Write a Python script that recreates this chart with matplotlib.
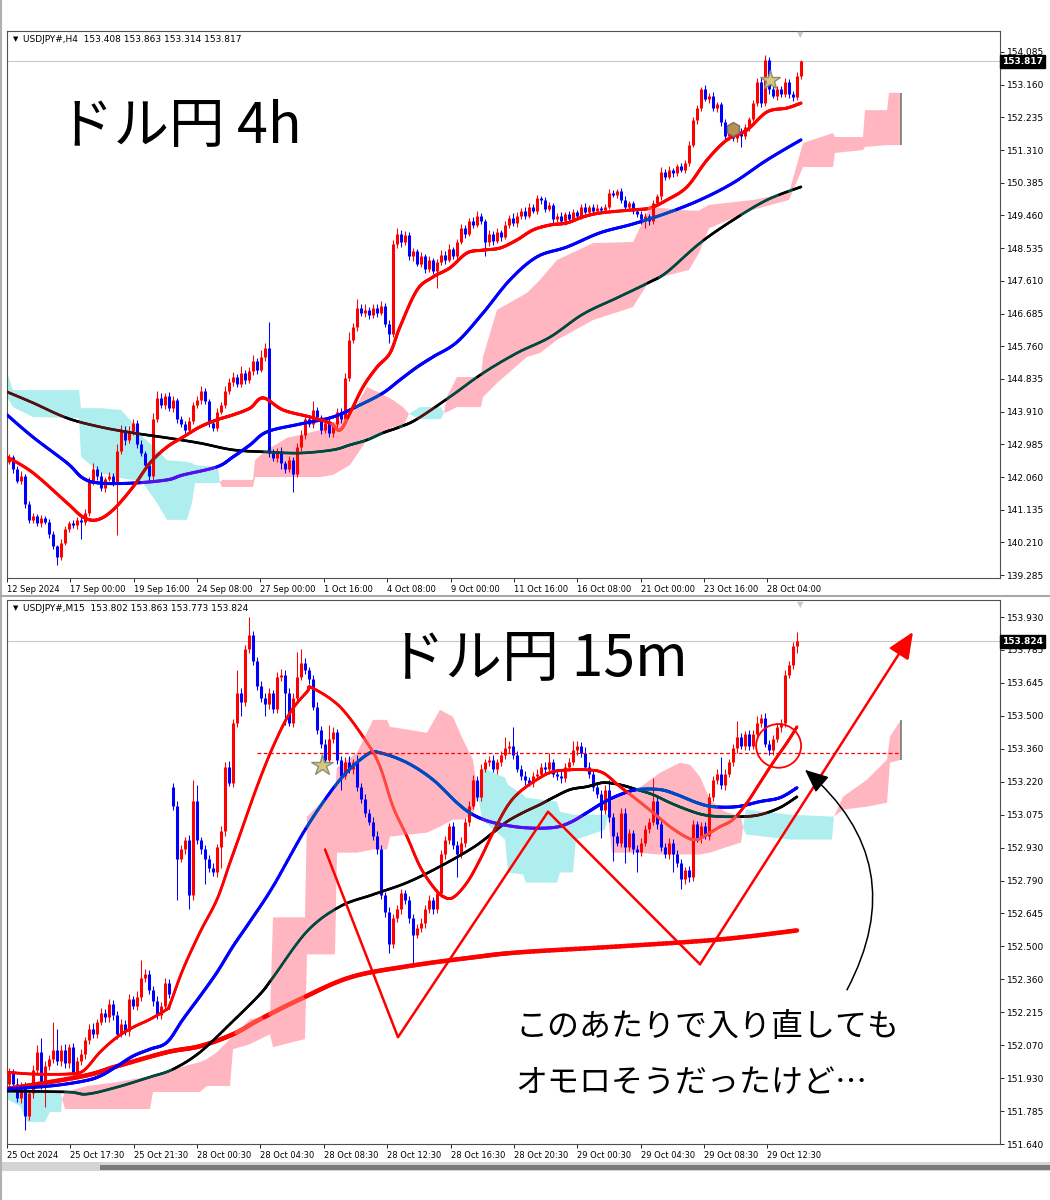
import numpy as np
import matplotlib
matplotlib.use("Agg")
import matplotlib.pyplot as plt
import matplotlib.colors as mcolors
import matplotlib.transforms as mtransforms
from matplotlib.collections import LineCollection
from matplotlib.patches import Ellipse, FancyArrowPatch, Rectangle
from matplotlib.lines import Line2D

plt.rcParams['font.family'] = ['Noto Sans CJK JP', 'DejaVu Sans']

# ---------------- H4 chart data ----------------
h4_first_open = 142.50
h4_close = [
    142.62, 142.28, 141.95, 142.10, 141.30, 140.85, 140.95, 140.75, 140.90, 140.80,
    140.45, 140.10, 139.80, 140.20, 140.60, 140.75, 140.70, 140.85, 140.80, 141.05,
    141.95, 142.30, 142.10, 141.75, 142.00, 142.10, 141.90, 142.80, 143.40, 143.10,
    143.35, 143.60, 143.00, 142.75, 142.40, 142.10, 143.70, 144.30, 144.10, 144.35,
    144.00, 144.25, 143.70, 143.55, 143.40, 143.65, 144.10, 144.25, 144.50, 144.20,
    143.60, 143.45, 143.90, 144.10, 144.50, 144.75, 144.90, 144.70, 145.00, 144.80,
    145.05, 145.35, 145.10, 145.45, 145.70, 142.75, 142.60, 142.80, 142.45, 142.30,
    142.55, 142.15, 142.90, 143.25, 143.70, 143.55, 143.95, 143.75, 143.40, 143.60,
    143.30, 143.55, 143.90, 143.70, 144.85, 145.95, 146.30, 146.85, 146.70, 146.80,
    146.65, 146.85, 146.70, 146.90, 146.40, 146.10, 148.65, 148.95, 148.70, 148.90,
    148.30, 148.45, 148.10, 148.30, 147.95, 148.20, 147.90, 148.15, 148.35, 148.20,
    148.50, 148.30, 148.70, 149.10, 148.95, 149.30, 149.20, 149.45, 149.30, 148.70,
    148.95, 148.75, 149.00, 148.85, 149.20, 149.40, 149.25, 149.45, 149.60, 149.45,
    149.70, 149.60, 149.95, 149.90, 149.65, 149.75, 149.35, 149.45, 149.30, 149.50,
    149.35, 149.55, 149.45, 149.70, 149.55, 149.70, 149.60, 149.68, 149.62, 149.70,
    150.10, 150.05, 150.15, 149.90, 149.70, 149.80, 149.60, 149.50, 149.35, 149.45,
    149.30, 149.80, 150.00, 150.70, 150.55, 150.75, 150.65, 150.85, 150.75, 150.95,
    151.45, 152.15, 152.50, 153.05, 152.75, 152.85, 152.50, 152.60, 152.10, 151.70,
    151.85, 151.65, 151.85, 151.70, 151.95, 152.20, 152.65, 153.25, 152.65, 153.85,
    153.05, 152.85, 153.05, 152.90, 153.25, 152.90, 152.80, 153.408, 153.817]
# wick lengths in 0.01 yen
h4_wick_up = [
    8, 6, 10, 12, 5, 8, 10, 6, 9, 7,
    6, 8, 5, 10, 8, 6, 9, 7, 8, 10,
    12, 15, 8, 10, 6, 9, 8, 20, 12, 10,
    15, 10, 8, 12, 6, 10, 18, 20, 15, 8,
    12, 10, 6, 8, 10, 12, 8, 10, 15, 8,
    6, 10, 12, 8, 15, 10, 12, 8, 20, 10,
    12, 15, 8, 20, 15, 75, 10, 8, 12, 6,
    10, 8, 12, 15, 10, 8, 25, 10, 8, 12,
    10, 8, 12, 10, 15, 20, 12, 25, 10, 15,
    8, 12, 10, 15, 8, 10, 12, 15, 10, 12,
    8, 10, 6, 12, 8, 10, 6, 8, 12, 10,
    15, 8, 10, 12, 8, 10, 12, 15, 8, 6,
    10, 8, 12, 6, 10, 8, 12, 10, 8, 10,
    12, 8, 10, 6, 8, 10, 6, 8, 10, 6,
    8, 10, 6, 8, 10, 6, 8, 10, 6, 8,
    10, 8, 6, 8, 10, 8, 6, 8, 10, 8,
    6, 10, 8, 12, 8, 10, 6, 8, 10, 8,
    12, 10, 8, 5, 10, 8, 10, 6, 8, 10,
    8, 10, 6, 8, 10, 6, 8, 10, 12, 15,
    10, 8, 6, 8, 10, 6, 8, 10, 5]
h4_wick_dn = [
    8, 10, 6, 8, 12, 10, 8, 6, 10, 8,
    10, 8, 22, 8, 6, 10, 8, 12, 50, 10,
    8, 10, 12, 8, 10, 6, 8, 148, 10, 12,
    8, 10, 12, 8, 10, 15, 12, 8, 10, 12,
    8, 10, 12, 8, 10, 6, 8, 10, 12, 8,
    12, 10, 8, 6, 10, 8, 12, 10, 8, 10,
    8, 10, 12, 8, 10, 12, 8, 10, 15, 12,
    10, 51, 8, 10, 12, 8, 10, 6, 12, 8,
    10, 12, 8, 10, 6, 8, 10, 12, 8, 10,
    12, 8, 10, 6, 10, 25, 8, 10, 12, 8,
    10, 12, 8, 10, 12, 8, 10, 50, 8, 10,
    6, 8, 10, 6, 12, 8, 10, 6, 8, 40,
    10, 12, 8, 10, 6, 8, 10, 12, 8, 10,
    6, 8, 10, 12, 8, 6, 10, 8, 12, 10,
    8, 6, 10, 8, 6, 10, 8, 6, 10, 8,
    6, 8, 10, 8, 12, 6, 10, 8, 12, 25,
    10, 8, 6, 10, 8, 6, 10, 8, 6, 10,
    8, 6, 10, 8, 6, 10, 8, 12, 10, 15,
    10, 8, 12, 30, 8, 10, 6, 8, 12, 10,
    15, 8, 12, 10, 8, 12, 10, 8, 9]

h4_red_x = [-0.5, 6, 14.5, 18.5, 22, 26, 31, 35.25, 39.5, 43.5, 47.75, 52, 56, 60.25, 63.5,
            68.5, 75.25, 80.25, 82.75, 85.25, 88.5, 92, 95.25, 97.75, 102, 106, 110.25, 114.5,
            118.5, 122.75, 127, 131, 135.25, 139.5, 143.5, 147.75, 156, 160.25, 164.5, 169.5,
            174.5, 179.5, 184.5, 189.5, 194.5, 198]
h4_red_y = [142.63, 142.18, 141.33, 140.93, 140.85, 141.13, 141.78, 142.46, 142.91, 143.19,
            143.48, 143.68, 143.82, 144.01, 144.30, 143.96, 143.76, 143.59, 143.39, 143.87,
            144.61, 145.17, 145.57, 146.31, 147.35, 147.72, 147.98, 148.40, 148.48, 148.54,
            148.77, 149.05, 149.19, 149.25, 149.42, 149.53, 149.62, 149.67, 149.90, 150.27,
            151.03, 151.60, 151.88, 152.39, 152.50, 152.64]
h4_blue_x = [-0.5, 6, 14.5, 18.5, 22.75, 31, 39.5, 43.5, 52, 56, 60.25, 64.5, 72.75, 81, 87.75,
             93.5, 97.75, 102, 106, 112, 118.5, 125.25, 132, 139.5, 147.75, 156, 164.5, 172.75,
             181, 189.5, 198]
h4_blue_y = [143.82, 143.19, 142.46, 142.03, 141.89, 141.89, 141.98, 142.12, 142.35, 142.63,
             142.97, 143.34, 143.56, 143.76, 144.10, 144.44, 144.81, 145.17, 145.46, 145.88,
             146.70, 147.64, 148.29, 148.57, 148.97, 149.22, 149.53, 149.90, 150.38, 151.03,
             151.60]
h4_black_x = [-0.5, 6, 14.5, 22.75, 31, 39.5, 47.75, 56, 64.5, 72.75, 81, 85.25, 89.5, 93.5,
              97.75, 102, 110.25, 118.5, 127, 135.25, 143.5, 152, 160.25, 164.5, 172.75, 181,
              189.5, 198]
h4_black_y = [144.47, 144.16, 143.73, 143.48, 143.31, 143.17, 143.02, 142.83, 142.77, 142.74,
              142.83, 142.97, 143.11, 143.31, 143.48, 143.70, 144.33, 145.00, 145.57, 146.02,
              146.67, 147.13, 147.58, 147.86, 148.68, 149.33, 149.90, 150.27]

h4_cloud_x = [-0.5, 1, 6, 17.5, 18, 23, 28, 31, 33.5, 37, 39.5, 44.5, 45.75, 46.5, 52.25, 52.75,
              53.25, 61, 61.5, 64.5, 69.5, 72.75, 77.75, 81, 85.25, 89.5, 92.75, 96, 98.5, 100,
              102.75, 108, 108.75, 109.5, 112, 118, 118.5, 122, 129.5, 132.75, 137, 146, 156,
              160.25, 170, 172.5, 175, 186, 195, 198.5, 206, 206.5, 213.5, 214, 219.5, 220, 223]
h4_span_a = [144.33, 144.04, 143.76, 143.73, 142.63, 142.17, 142.03, 141.98, 141.89, 141.33,
             140.85, 140.85, 141.33, 141.89, 141.89, 141.90, 141.98, 141.98, 142.54, 142.83,
             143.17, 143.25, 143.39, 143.59, 143.76, 144.61, 144.44, 144.24, 144.04, 143.85,
             143.70, 143.70, 143.88, 144.33, 144.89, 144.89, 145.46, 146.79, 147.27, 147.64,
             148.20, 148.68, 148.71, 149.70, 149.60, 149.60, 149.76, 149.90, 150.10, 151.51,
             151.79, 151.68, 151.68, 152.44, 152.44, 152.93, 152.93]
h4_span_b = [145.03, 144.52, 144.52, 144.52, 144.01, 144.01, 143.96, 143.59, 143.19, 142.83,
             142.54, 142.49, 142.46, 142.40, 142.35, 141.90, 141.78, 141.78, 142.06, 142.06,
             142.06, 142.06, 142.06, 142.12, 142.40, 143.11, 143.25, 143.48, 143.48, 143.85,
             144.04, 144.04, 143.88, 143.90, 144.04, 144.04, 144.32, 144.72, 145.46, 145.57,
             145.94, 146.50, 146.87, 147.64, 147.92, 148.40, 149.10, 149.62, 149.90, 150.83,
             150.83, 151.23, 151.31, 151.40, 151.45, 151.45, 151.45]

h4_yticks = [154.085, 153.160, 152.235, 151.310, 150.385, 149.460, 148.535, 147.610, 146.685,
             145.760, 144.835, 143.910, 142.985, 142.060, 141.135, 140.210, 139.285]
h4_xlabels = ['12 Sep 2024', '17 Sep 00:00', '19 Sep 16:00', '24 Sep 08:00', '27 Sep 00:00',
              '1 Oct 16:00', '4 Oct 08:00', '9 Oct 00:00', '11 Oct 16:00', '16 Oct 08:00',
              '21 Oct 00:00', '23 Oct 16:00', '28 Oct 04:00']
h4_header = 'USDJPY#,H4  153.408 153.863 153.314 153.817'
h4_icons = {'star': (190.25, 153.29), 'hex': (181, 151.91)}

# ---------------- M15 chart data ----------------
m15_first_open = 151.90
m15_gap_open = {41: 153.19}     # weekend gap on Monday open
m15_close = [
    151.95, 151.90, 151.84, 151.89, 151.76, 151.86, 151.96, 152.04, 151.90, 151.98,
    152.01, 152.05, 152.00, 152.05, 151.99, 152.06, 151.95, 152.00, 152.03, 152.09,
    152.14, 152.12, 152.17, 152.21, 152.19, 152.25, 152.20, 152.12, 152.16, 152.13,
    152.27, 152.24, 152.28, 152.36, 152.38, 152.31, 152.26, 152.20, 152.24, 152.34,
    152.29, 153.11, 152.88, 152.92, 152.96, 152.72, 153.13, 152.96, 152.92, 152.88,
    152.84, 152.82, 152.93, 153.00, 153.28, 153.21, 153.47, 153.60, 153.56, 153.79,
    153.85, 153.74, 153.63, 153.58, 153.55, 153.60, 153.53, 153.67, 153.68, 153.60,
    153.47, 153.58, 153.67, 153.73, 153.70, 153.66, 153.54, 153.44, 153.38, 153.31,
    153.40, 153.43, 153.31, 153.24, 153.30, 153.27, 153.30, 153.19, 153.14, 153.08,
    153.04, 152.98, 152.92, 152.72, 152.65, 152.51, 152.62, 152.66, 152.73, 152.70,
    152.62, 152.55, 152.58, 152.60, 152.66, 152.70, 152.66, 152.73, 152.90, 152.96,
    153.02, 152.94, 152.90, 152.95, 153.04, 153.11, 153.22, 153.15, 153.27, 153.30,
    153.31, 153.27, 153.30, 153.33, 153.36, 153.37, 153.33, 153.27, 153.24, 153.22,
    153.21, 153.24, 153.25, 153.28, 153.27, 153.30, 153.25, 153.24, 153.23, 153.28,
    153.30, 153.35, 153.37, 153.34, 153.28, 153.25, 153.19, 153.16, 153.09, 153.18,
    153.06, 152.98, 152.95, 153.08, 152.93, 152.99, 152.92, 152.91, 152.95, 153.01,
    153.04, 153.13, 153.03, 152.93, 152.90, 152.95, 152.90, 152.86, 152.79, 152.83,
    152.80, 153.03, 152.97, 153.02, 152.98, 153.15, 153.22, 153.25, 153.20, 153.25,
    153.30, 153.36, 153.41, 153.37, 153.42, 153.37, 153.42, 153.47, 153.49, 153.38,
    153.35, 153.40, 153.45, 153.47, 153.68, 153.72, 153.802, 153.824]
# wick lengths in 0.001 yen
m15_wick_up = [
    20, 15, 25, 18, 20, 15, 22, 30, 60, 20,
    15, 120, 90, 20, 25, 15, 20, 18, 22, 15,
    20, 25, 15, 20, 18, 22, 15, 20, 25, 18,
    20, 15, 25, 80, 20, 15, 18, 22, 15, 20,
    15, 20, 20, 18, 15, 22, 90, 70, 15, 20,
    18, 20, 15, 22, 20, 25, 15, 100, 20, 20,
    80, 20, 15, 20, 18, 22, 15, 20, 25, 18,
    20, 22, 110, 60, 20, 15, 18, 20, 15, 22,
    60, 20, 15, 18, 20, 25, 15, 30, 18, 20,
    15, 20, 18, 20, 15, 22, 18, 20, 20, 15,
    18, 20, 15, 22, 18, 20, 15, 20, 18, 20,
    15, 20, 18, 22, 15, 20, 25, 18, 20, 15,
    18, 20, 15, 18, 50, 20, 80, 18, 15, 20,
    15, 18, 20, 15, 18, 40, 15, 18, 20, 15,
    18, 40, 20, 15, 25, 18, 20, 15, 18, 20,
    40, 18, 15, 20, 18, 20, 15, 18, 20, 15,
    18, 100, 20, 15, 18, 20, 15, 18, 20, 15,
    18, 20, 15, 18, 20, 15, 18, 20, 70, 18,
    15, 20, 70, 18, 15, 20, 18, 30, 20, 25,
    15, 18, 20, 15, 20, 18, 20, 39]
m15_wick_dn = [
    20, 25, 18, 22, 60, 15, 20, 18, 22, 100,
    18, 20, 15, 22, 18, 20, 25, 15, 18, 20,
    15, 20, 18, 15, 22, 18, 20, 25, 15, 18,
    20, 15, 18, 20, 15, 18, 22, 15, 18, 20,
    15, 20, 180, 15, 18, 60, 20, 15, 18, 110,
    20, 15, 18, 90, 20, 15, 18, 20, 60, 15,
    18, 20, 15, 18, 50, 20, 15, 18, 20, 140,
    15, 18, 20, 15, 18, 20, 15, 18, 20, 22,
    15, 18, 20, 60, 15, 18, 20, 15, 18, 20,
    15, 18, 20, 15, 22, 40, 18, 15, 20, 18,
    20, 140, 15, 18, 20, 15, 22, 18, 15, 20,
    18, 20, 100, 15, 18, 20, 15, 18, 20, 15,
    18, 15, 20, 18, 15, 20, 18, 15, 20, 18,
    15, 18, 20, 15, 18, 20, 15, 18, 20, 15,
    18, 15, 20, 18, 15, 20, 18, 15, 120, 18,
    20, 110, 15, 18, 70, 15, 18, 90, 20, 15,
    18, 15, 20, 18, 15, 20, 80, 15, 40, 18,
    20, 15, 18, 20, 15, 18, 20, 15, 18, 20,
    15, 18, 20, 15, 18, 20, 15, 18, 20, 15,
    18, 20, 15, 18, 20, 15, 18, 27]

m15_red_x = [-0.5, 6, 14.5, 18.5, 22.75, 27, 31, 35.25, 39.5, 40.25, 43.5, 47.75, 52, 55.25,
             57.75, 62, 66, 70.25, 74.5, 75.75, 82.75, 89.5, 92.75, 96, 99.5, 102.75, 106, 108.5,
             111, 114.5, 117.75, 121, 124.5, 127.75, 132.75, 136, 140.25, 144.5, 148.5, 152.75,
             157, 161, 165.25, 169.5, 172, 174.5, 177.75, 181, 184.5, 187.75, 191, 194.5, 197]
m15_red_y = [151.952, 151.944, 151.944, 151.957, 152.039, 152.104, 152.147, 152.182, 152.226,
             152.247, 152.399, 152.560, 152.703, 152.863, 152.985, 153.193, 153.366, 153.514,
             153.605, 153.622, 153.540, 153.384, 153.280, 153.106, 152.976, 152.846, 152.759,
             152.716, 152.711, 152.776, 152.876, 152.993, 153.106, 153.171, 153.232, 153.258,
             153.266, 153.266, 153.253, 153.193, 153.136, 153.080, 153.019, 152.972, 152.963,
             152.985, 153.019, 153.050, 153.123, 153.210, 153.297, 153.384, 153.453]
m15_blue_x = [-0.5, 10.25, 18.5, 22.75, 27, 31, 35.25, 39.5, 43.5, 47.75, 52, 56, 60.25, 66,
              74.5, 82.75, 89.5, 92.75, 99.5, 106, 112, 116, 121, 128.5, 136, 140.25, 144.5,
              148.5, 152.75, 157, 162.75, 167, 172, 176, 182, 187.75, 192.75, 197]
m15_blue_y = [151.879, 151.892, 151.913, 151.935, 151.978, 152.022, 152.052, 152.082, 152.182,
              152.282, 152.386, 152.499, 152.607, 152.759, 153.019, 153.223, 153.332, 153.340,
              153.297, 153.223, 153.123, 153.071, 153.037, 153.015, 153.015, 153.037, 153.080,
              153.123, 153.158, 153.180, 153.180, 153.158, 153.123, 153.106, 153.106, 153.128,
              153.145, 153.188]
m15_black_x = [-0.5, 14.5, 19.5, 27, 35.25, 41, 47.75, 56, 62.75, 66, 74.5, 82.75, 91, 99.5,
               107.75, 116, 121, 124.5, 128.5, 132.75, 136, 140.25, 144.5, 148.5, 152.75, 157,
               161, 165.25, 169.5, 173.5, 177.75, 183.5, 187.75, 192.75, 197]
m15_black_y = [151.870, 151.866, 151.857, 151.887, 151.931, 151.965, 152.039, 152.174, 152.291,
               152.364, 152.564, 152.672, 152.724, 152.776, 152.846, 152.928, 152.993, 153.041,
               153.080, 153.115, 153.145, 153.180, 153.193, 153.210, 153.201, 153.180, 153.158,
               153.123, 153.093, 153.071, 153.063, 153.063, 153.071, 153.102, 153.149]
m15_slow_x = [-0.5, 18.5, 27, 39.5, 47.75, 56, 62.75, 72.75, 85.25, 99.5, 116, 127.75, 152.75,
              177.75, 197]
m15_slow_y = [151.879, 151.935, 151.978, 152.039, 152.065, 152.117, 152.182, 152.269, 152.364,
              152.412, 152.451, 152.473, 152.499, 152.529, 152.568]

m15_cloud_x = [-0.5, 2.75, 4.5, 9, 10.25, 13, 13.25, 14, 19.5, 27,
               35.25, 36, 41, 47.75, 49.5, 52, 55.25, 56, 60.25, 65.25,
               66, 74, 74.5, 81.5, 82, 87, 91, 94.5, 95.25, 104.5,
               107.75, 111, 113.5, 116, 117.25, 118.25, 124, 124.75, 128.5, 129.25,
               137, 137.75, 141, 141.75, 149, 149.75, 150.75, 157, 162.75, 167.75,
               170.25, 172.75, 175.25, 179, 183, 183.5, 184.25, 195.25, 205.75, 206.25,
               208.5, 214.5, 219.5, 220.25, 223]
m15_span_a = [151.835, 151.805, 151.736, 151.736, 151.779, 151.779, 151.835, 151.866, 151.892, 151.909,
              151.935, 151.935, 151.965, 151.996, 152.009, 152.039, 152.096, 152.108, 152.182, 152.195,
              152.625, 152.625, 153.063, 153.180, 153.275, 153.340, 153.483, 153.483, 153.453, 153.427,
              153.527, 153.496, 153.397, 153.310, 153.158, 153.050, 152.963, 152.820, 152.811, 152.776,
              152.776, 152.820, 152.820, 152.963, 153.006, 153.071, 153.136, 153.180, 153.253, 153.297,
              153.288, 153.236, 153.136, 153.084, 153.063, 153.015, 152.985, 152.963, 152.963, 153.063,
              153.149, 153.223, 153.310, 153.410, 153.483]
m15_span_b = [151.866, 151.866, 151.866, 151.866, 151.866, 151.866, 151.835, 151.792, 151.792, 151.792,
              151.792, 151.866, 151.866, 151.866, 151.892, 151.892, 151.892, 152.052, 152.074, 152.117,
              152.061, 152.096, 152.464, 152.464, 152.906, 152.906, 152.920, 152.920, 152.976, 152.993,
              153.019, 153.050, 153.050, 153.071, 153.158, 153.275, 153.232, 153.201, 153.158, 153.145,
              153.128, 153.084, 153.071, 153.071, 153.071, 153.071, 152.906, 152.906, 152.898, 152.898,
              152.898, 152.898, 152.906, 152.928, 152.950, 153.015, 153.093, 153.071, 153.063, 153.063,
              153.093, 153.106, 153.123, 153.297, 153.310]

m15_yticks = [153.930, 153.785, 153.645, 153.500, 153.360, 153.220, 153.075, 152.930, 152.790,
              152.645, 152.500, 152.360, 152.215, 152.070, 151.930, 151.785, 151.640]
m15_xlabels = ['25 Oct 2024', '25 Oct 17:30', '25 Oct 21:30', '28 Oct 00:30', '28 Oct 04:30',
               '28 Oct 08:30', '28 Oct 12:30', '28 Oct 16:30', '28 Oct 20:30', '29 Oct 00:30',
               '29 Oct 04:30', '29 Oct 08:30', '29 Oct 12:30']
m15_header = 'USDJPY#,M15  153.802 153.863 153.773 153.824'
m15_star = (78.25, 153.288)

# hand drawn marks on the M15 chart
zig_x = [79, 97.25, 134.75, 172.75, 226]
zig_y = [152.92, 152.104, 153.084, 152.421, 153.865]
resist_level = 153.34
circle_xy = (192.4, 153.37)
curve_from = (209.5, 152.31)
curve_to = (199, 153.266)

PINK = (255, 182, 193)
CYAN = (175, 238, 238)


def xor_color(color, cloud):
    # MT4 paints the cloud in XOR mode, so lines crossing it change colour
    c = (np.array(mcolors.to_rgb(color)) * 255).round().astype(int)
    key = np.array([255, 255, 255]) ^ np.array(cloud)
    return tuple((c ^ key) / 255)


def make_ohlc(first_open, closes, up, dn, unit, gaps=None):
    c = np.array(closes, dtype=float)
    o = np.r_[first_open, c[:-1]]
    for k, v in (gaps or {}).items():
        o[k] = v
    h = np.maximum(o, c) + np.array(up) * unit
    l = np.minimum(o, c) - np.array(dn) * unit
    return o, h, l, c


def draw_candles(ax, o, h, l, c, min_body):
    x = np.arange(len(c))
    cols = np.where(c >= o, '#ff0000', '#0000ff')
    ax.vlines(x, l, h, colors=cols, lw=0.75, zorder=4)
    lo = np.minimum(o, c)
    hi = np.maximum(np.maximum(o, c), lo + min_body)
    ax.vlines(x, lo, hi, colors=cols, lw=2.2, zorder=4)


def draw_cloud(ax, cx, ca, cb):
    cx, ca, cb = np.array(cx), np.array(ca), np.array(cb)
    pink = tuple(np.array(PINK) / 255)
    cyan = tuple(np.array(CYAN) / 255)
    ax.fill_between(cx, ca, cb, where=ca >= cb, interpolate=True, color=pink, lw=0, zorder=1)
    ax.fill_between(cx, ca, cb, where=ca < cb, interpolate=True, color=cyan, lw=0, zorder=1)
    ax.vlines(cx[-1], min(ca[-1], cb[-1]), max(ca[-1], cb[-1]), color='#6f7f6f', lw=1.2, zorder=2)


def smooth_path(xs, ys, n=24):
    # Catmull-Rom curve through the read points, just for drawing
    p = np.column_stack([xs, ys]).astype(float)
    p = np.vstack([p[0], p, p[-1]])
    t = np.linspace(0, 1, n, endpoint=False)[:, None]
    out = []
    for k in range(1, len(p) - 2):
        p0, p1, p2, p3 = p[k - 1], p[k], p[k + 1], p[k + 2]
        out.append(0.5 * (2 * p1 + (p2 - p0) * t + (2 * p0 - 5 * p1 + 4 * p2 - p3) * t ** 2
                          + (3 * p1 - p0 - 3 * p2 + p3) * t ** 3))
    out.append(p[-2][None])
    return np.vstack(out)


def draw_ma(ax, xs, ys, color, lw, cloud, zorder=5):
    cx, ca, cb = cloud
    pts = smooth_path(xs, ys)
    mid = (pts[1:] + pts[:-1]) / 2
    a = np.interp(mid[:, 0], cx, ca)
    b = np.interp(mid[:, 0], cx, cb)
    my = mid[:, 1]
    in_p = (a >= b) & (my <= a) & (my >= b)
    in_c = (a < b) & (my >= a) & (my <= b)
    cols = np.tile(mcolors.to_rgb(color), (len(mid), 1))
    cols[in_p] = xor_color(color, PINK)
    cols[in_c] = xor_color(color, CYAN)
    segs = np.stack([pts[:-1], pts[1:]], axis=1)
    ax.add_collection(LineCollection(segs, colors=cols, linewidths=lw,
                                     capstyle='round', zorder=zorder))


def style_axes(ax, ylim, yticks, ylabels, xlabels, header, last):
    ax.set_xlim(-0.5, 247.75)
    ax.set_ylim(*ylim)
    ax.yaxis.tick_right()
    ax.set_yticks(yticks)
    ax.set_yticklabels(ylabels, fontfamily='DejaVu Sans', fontsize=6.5)
    ax.set_xticks(-0.5 + 15.84 * np.arange(len(xlabels)))
    ax.set_xticklabels(xlabels, fontfamily='DejaVu Sans', fontsize=6)
    for t in ax.get_xticklabels():
        t.set_ha('left')
    ax.tick_params(axis='both', length=3, width=0.6, pad=2, colors='black')
    for s in ax.spines.values():
        s.set_color('#505050')
        s.set_linewidth(0.8)
    ax.axhline(last, color='#c8c8c8', lw=0.8, zorder=0.5)
    tr = mtransforms.blended_transform_factory(ax.transAxes, ax.transData)
    ax.text(1.002, last, f'{last:.3f}', transform=tr, fontsize=6.5, color='white',
            fontfamily='DejaVu Sans', fontweight='bold', va='center', ha='left',
            bbox=dict(boxstyle='square,pad=0.2', fc='black', ec='black'), zorder=10, clip_on=False)
    ax.text(0.006, 0.985, '▼', transform=ax.transAxes, fontsize=5, fontfamily='DejaVu Sans',
            va='center', ha='left')
    ax.text(0.016, 0.985, header, transform=ax.transAxes, fontsize=6.5, fontfamily='DejaVu Sans',
            va='center', ha='left')


fig = plt.figure(figsize=(10.5, 12), dpi=100)
fig.patch.set_facecolor('white')

# ---- top: H4
ax1 = fig.add_axes([7 / 1050, 1 - 578 / 1200, 993 / 1050, 547 / 1200])
cloud1 = (h4_cloud_x, h4_span_a, h4_span_b)
draw_cloud(ax1, *cloud1)
o, h, l, c = make_ohlc(h4_first_open, h4_close, h4_wick_up, h4_wick_dn, 0.01)
draw_candles(ax1, o, h, l, c, 0.03)
draw_ma(ax1, h4_black_x, h4_black_y, '#000000', 1.9, cloud1)
draw_ma(ax1, h4_blue_x, h4_blue_y, '#0000ff', 2.2, cloud1)
draw_ma(ax1, h4_red_x, h4_red_y, '#ff0000', 2.2, cloud1)
ax1.plot(*h4_icons['star'], marker='*', ms=15, mfc='#d8c87a', mec='#8c8c7a', mew=1, zorder=7)
ax1.plot(*h4_icons['hex'], marker='h', ms=10, mfc='#b89050', mec='#707070', mew=1, zorder=7)
style_axes(ax1, (139.205, 154.679), h4_yticks, [f'{v:.3f}' for v in h4_yticks],
           h4_xlabels, h4_header, h4_close[-1])

# ---- bottom: M15
ax2 = fig.add_axes([7 / 1050, 1 - 1144 / 1200, 993 / 1050, 544 / 1200])
cloud2 = (m15_cloud_x, m15_span_a, m15_span_b)
draw_cloud(ax2, *cloud2)
o, h, l, c = make_ohlc(m15_first_open, m15_close, m15_wick_up, m15_wick_dn, 0.001, m15_gap_open)
draw_candles(ax2, o, h, l, c, 0.004)
draw_ma(ax2, m15_slow_x, m15_slow_y, '#ff0000', 3.2, cloud2)
draw_ma(ax2, m15_black_x, m15_black_y, '#000000', 1.9, cloud2)
draw_ma(ax2, m15_blue_x, m15_blue_y, '#0000ff', 2.2, cloud2)
draw_ma(ax2, m15_red_x, m15_red_y, '#ff0000', 2.0, cloud2)
ax2.plot(*m15_star, marker='*', ms=16, mfc='#d8c87a', mec='#8c8c7a', mew=1, zorder=7)
m15_tick_pos = 153.930 - 0.143125 * np.arange(len(m15_yticks))
style_axes(ax2, (151.644, 154.004), m15_tick_pos, [f'{v:.3f}' for v in m15_yticks],
           m15_xlabels, m15_header, m15_close[-1])

# hand drawn annotation
ax2.hlines(resist_level, 62, 222.75, colors='#ff0000', linestyles=(0, (3, 2)), lw=0.9, zorder=6)
ax2.plot(zig_x[:-1], zig_y[:-1], color='#ff0000', lw=1.8, zorder=8, solid_capstyle='round')
ax2.annotate('', xy=(zig_x[-1], zig_y[-1]), xytext=(zig_x[-2], zig_y[-2]),
             arrowprops=dict(arrowstyle='-|>,head_length=0.8,head_width=0.35', color='#ff0000',
                             lw=1.8, mutation_scale=20, shrinkA=0, shrinkB=0), zorder=8)
ax2.add_patch(Ellipse(circle_xy, width=11.25, height=0.19, fill=False, ec='#ff0000', lw=1.3, zorder=8))
ax2.add_patch(FancyArrowPatch(curve_from, curve_to, connectionstyle='arc3,rad=0.4',
                              arrowstyle='-|>,head_length=0.8,head_width=0.35', mutation_scale=18,
                              color='black', lw=1.1, shrinkA=0, shrinkB=0, zorder=8))

# big titles and comment
fig.text(58 / 1050, 1 - 127 / 1200, 'ドル円 4h', fontsize=40, fontweight='normal',
         va='center', ha='left')
fig.text(538 / 1050, 1 - 660 / 1200, 'ドル円 15m', fontsize=41, fontweight='normal',
         va='center', ha='center')
fig.text(515 / 1050, 1 - 1027 / 1200, 'このあたりで入り直しても', fontsize=23, va='center', ha='left')
fig.text(515 / 1050, 1 - 1083 / 1200, 'オモロそうだったけど…', fontsize=23, va='center', ha='left')

# window frame bits
fig.add_artist(Line2D([1 / 1050, 1 / 1050], [0, 1], color='#b0b0b0', lw=1.5))
fig.add_artist(Line2D([0, 1], [1 - 596 / 1200, 1 - 596 / 1200], color='#a8a8a8', lw=1.5))
fig.add_artist(Rectangle((0, 1 - 1171 / 1200), 1, 9 / 1200, color='#d4d4d4', lw=0))
fig.add_artist(Rectangle((100 / 1050, 1 - 1170 / 1200), 950 / 1050, 5 / 1200, color='#7a7a7a', lw=0))
for ytop in (35, 605):
    fig.text(800 / 1050, 1 - ytop / 1200, '▼', fontsize=6, color='#c8c8c8', ha='center',
             va='center', fontfamily='DejaVu Sans')

fig.savefig('out.png', dpi=100)
